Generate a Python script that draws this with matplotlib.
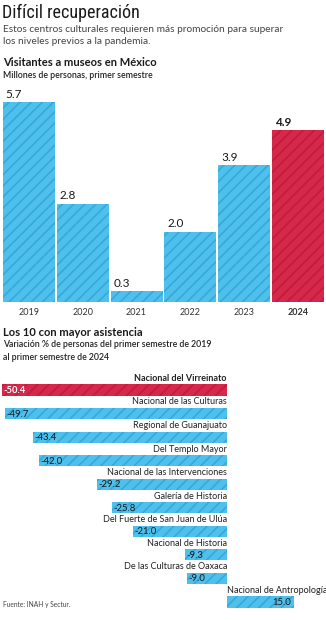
import matplotlib
matplotlib.use("Agg")
import matplotlib.pyplot as plt
from matplotlib import font_manager

# font for the condensed title, if one is installed
names = set(f.name for f in font_manager.fontManager.ttflist)
title_font = "Roboto"
for cand in ["Liberation Sans Narrow", "DejaVu Sans Condensed", "Roboto Condensed", "Open Sans Condensed"]:
    if cand in names:
        title_font = cand
        break

plt.rcParams['font.family'] = ['Lato', 'DejaVu Sans']
plt.rcParams['hatch.linewidth'] = 1.2

years = ["2019", "2020", "2021", "2022", "2023", "2024"]
visitors = [5.7, 2.8, 0.3, 2.0, 3.9, 4.9]

museums = ["Nacional del Virreinato", "Nacional de las Culturas", "Regional de Guanajuato",
           "Del Templo Mayor", "Nacional de las Intervenciones", "Galería de Historia",
           "Del Fuerte de San Juan de Ulúa", "Nacional de Historia",
           "De las Culturas de Oaxaca", "Nacional de Antropología"]
variation = [-50.4, -49.7, -43.4, -42.0, -29.2, -25.8, -21.0, -9.3, -9.0, 15.0]

blue = "#4fc0ec"
blue_h = "#36a9dc"
red = "#d6284a"
red_h = "#c01c3d"
W, H = 326, 620

fig = plt.figure(figsize=(W / 100, H / 100), dpi=100)

def fy(px):
    return 1 - px / H

def fx(px):
    return px / W

# header
fig.text(fx(2), fy(13), "Difícil recuperación", fontsize=13, family=[title_font, "DejaVu Sans"],
         fontstretch="condensed", color="#1a1a1a", va="center")
fig.text(fx(3), fy(29), "Estos centros culturales requieren más promoción para superar",
         fontsize=7.3, color="#444444", va="center")
fig.text(fx(3), fy(41), "los niveles previos a la pandemia.", fontsize=7.3, color="#444444", va="center")
fig.text(fx(3), fy(63), "Visitantes a museos en México", fontsize=8, weight="bold", color="#1a1a1a", va="center")
fig.text(fx(3), fy(76), "Millones de personas, primer semestre", fontsize=6.3, weight="semibold",
         color="#222222", va="center")

# top bar chart
ax1 = fig.add_axes([fx(2), fy(302), fx(323), 200 / H])
for i, (yr, v) in enumerate(zip(years, visitors)):
    last = i == len(years) - 1
    ax1.bar(i, v, width=0.965, color=red if last else blue,
            edgecolor=red_h if last else blue_h, linewidth=0, hatch="///")
    ax1.text(i - 0.43, v + 0.07, f"{v:.1f}", fontsize=8.5, va="bottom", ha="left",
             weight="bold" if last else "normal", color="#1a1a1a")
ax1.set_xlim(-0.5, 5.5)
ax1.set_ylim(0, 5.7)
ax1.set_xticks(range(len(years)))
ax1.set_xticklabels(years, fontsize=6.5, color="#333333")
ax1.get_xticklabels()[-1].set_weight("bold")
ax1.tick_params(axis="x", length=0, pad=4)
ax1.set_yticks([])
for s in ax1.spines.values():
    s.set_visible(False)
ax1.patch.set_alpha(0)

# bottom section header
fig.text(fx(3), fy(333), "Los 10 con mayor asistencia", fontsize=8, weight="bold", color="#1a1a1a", va="center")
fig.text(fx(3), fy(345), "Variación % de personas del primer semestre de 2019",
         fontsize=6.3, weight="semibold", color="#222222", va="center")
fig.text(fx(3), fy(358), "al primer semestre de 2024", fontsize=6.3, weight="semibold",
         color="#222222", va="center")

# bottom horizontal bars
ax2 = fig.add_axes([fx(2), fy(613.8), fx(324), (613.8 - 378.2) / H])
for i, (name, v) in enumerate(zip(museums, variation)):
    first = i == 0
    ax2.barh(i, v, height=0.47, color=red if first else blue,
             edgecolor=red_h if first else blue_h, linewidth=0, hatch="///")
    if v < 0:
        ax2.text(0, i - 0.3, name, ha="right", va="bottom", fontsize=6.5,
                 weight="bold" if first else "normal", color="#222222")
        ax2.text(v + 0.3, i + 0.02, f"{v:.1f}", ha="left", va="center", fontsize=6.8,
                 color="white" if first else "#1a1a1a", weight="bold" if first else "normal")
    else:
        ax2.text(0, i - 0.3, name, ha="left", va="bottom", fontsize=6.5, color="#222222")
        ax2.text(v - 0.6, i + 0.02, f"{v:.1f}", ha="right", va="center", fontsize=6.8, color="#1a1a1a")
ax2.set_xlim(-50.4, 22.2)
ax2.set_ylim(9.5, -0.5)
ax2.axis("off")

fig.text(fx(3), fy(604), "Fuente: INAH y Sectur.", fontsize=4.8, color="#444444", va="center")

fig.savefig("out.png", dpi=100)
